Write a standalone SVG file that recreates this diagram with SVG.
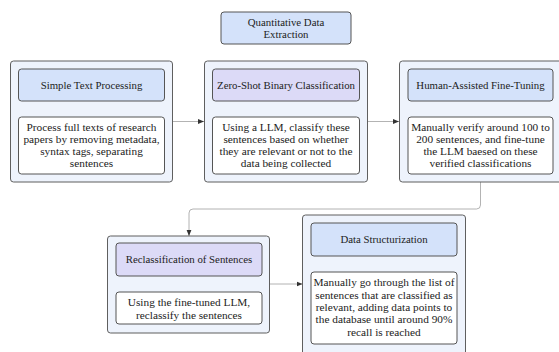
<svg xmlns="http://www.w3.org/2000/svg" width="559" height="352" viewBox="0 0 559 352">
  <defs>
    <marker id="arrow" viewBox="0 0 10 10" refX="10" refY="5" markerWidth="6" markerHeight="6" orient="auto" markerUnits="userSpaceOnUse">
      <path d="M0,1 L10,5 L0,9 Z" fill="#333"/>
    </marker>
    <style>
      .outer { fill: #eef3fc; stroke: #5f5f5f; stroke-width: 1; }
      .hdr-blue { fill: #d4e2fa; stroke: #555; stroke-width: 1; }
      .hdr-purple { fill: #dcdaf7; stroke: #555; stroke-width: 1; }
      .body { fill: #ffffff; stroke: #555; stroke-width: 1; }
      .link { fill: none; stroke: #a0a0a0; stroke-width: 0.8; }
      text { font-family: "Liberation Serif", "Times New Roman", serif; font-size: 11.3px; fill: #222; text-anchor: middle; }
      text.h { font-size: 10.8px; }
    </style>
  </defs>

  <rect width="559" height="352" fill="#ffffff"/>

  <g id="title">
    <rect class="hdr-blue" x="221" y="12" width="130" height="32" rx="3"/>
    <text class="h" x="286" y="25.5">Quantitative Data</text>
    <text class="h" x="286" y="37.5">Extraction</text>
  </g>

  <g id="connectors">
    <line class="link" x1="172" y1="121.5" x2="204" y2="121.5" marker-end="url(#arrow)"/>
    <line class="link" x1="368" y1="121.5" x2="399" y2="121.5" marker-end="url(#arrow)"/>
    <path class="link" d="M480.5,182 V205 Q480.5,209 476.5,209 H193 Q189,209 189,213 V236" marker-end="url(#arrow)"/>
    <line class="link" x1="269" y1="284" x2="302.5" y2="284" marker-end="url(#arrow)"/>
  </g>

  <g id="simple-text-processing">
    <rect class="outer" x="10.5" y="61" width="162" height="121" rx="3"/>
    <rect class="hdr-blue" x="18.5" y="69" width="146" height="32" rx="3"/>
    <text class="h" x="91.5" y="88.5">Simple Text Processing</text>
    <rect class="body" x="18.5" y="117" width="146" height="57" rx="3"/>
    <text x="91.5" y="130.5">Process full texts of research</text>
    <text x="91.5" y="142.5">papers by removing metadata,</text>
    <text x="91.5" y="154.5">syntax tags, separating</text>
    <text x="91.5" y="166.5">sentences</text>
  </g>

  <g id="zero-shot-classification">
    <rect class="outer" x="204.5" y="61" width="163" height="121" rx="3"/>
    <rect class="hdr-purple" x="212.5" y="69" width="147" height="32" rx="3"/>
    <text class="h" x="286" y="88.5">Zero-Shot Binary Classification</text>
    <rect class="body" x="212.5" y="117" width="147" height="57" rx="3"/>
    <text x="286" y="130.5">Using a LLM, classify these</text>
    <text x="286" y="142.5">sentences based on whether</text>
    <text x="286" y="154.5">they are relevant or not to the</text>
    <text x="286" y="166.5">data being collected</text>
  </g>

  <g id="human-assisted-fine-tuning">
    <rect class="outer" x="399.5" y="61" width="163" height="121" rx="3"/>
    <rect class="hdr-blue" x="408" y="69" width="145" height="32" rx="3"/>
    <text class="h" x="480.5" y="88.5">Human-Assisted Fine-Tuning</text>
    <rect class="body" x="408" y="117" width="145" height="57" rx="3"/>
    <text x="480.5" y="130.5">Manually verify around 100 to</text>
    <text x="480.5" y="142.5">200 sentences, and fine-tune</text>
    <text x="480.5" y="154.5">the LLM baesed on these</text>
    <text x="480.5" y="166.5">verified classifications</text>
  </g>

  <g id="reclassification">
    <rect class="outer" x="107.5" y="236" width="162" height="97" rx="3"/>
    <rect class="hdr-purple" x="116" y="243" width="146" height="33" rx="3"/>
    <text class="h" x="189" y="263">Reclassification of Sentences</text>
    <rect class="body" x="116" y="292" width="146" height="32" rx="3"/>
    <text x="189" y="306">Using the fine-tuned LLM,</text>
    <text x="189" y="318.5">reclassify the sentences</text>
  </g>

  <g id="data-structurization">
    <rect class="outer" x="302.5" y="215" width="163" height="150" rx="3"/>
    <rect class="hdr-blue" x="311" y="223" width="146" height="33" rx="3"/>
    <text class="h" x="384" y="243">Data Structurization</text>
    <rect class="body" x="311" y="272" width="146" height="72" rx="3"/>
    <text x="384" y="286">Manually go through the list of</text>
    <text x="384" y="298.5">sentences that are classified as</text>
    <text x="384" y="311">relevant, adding data points to</text>
    <text x="384" y="323">the database until around 90%</text>
    <text x="384" y="335.5">recall is reached</text>
  </g>
</svg>
